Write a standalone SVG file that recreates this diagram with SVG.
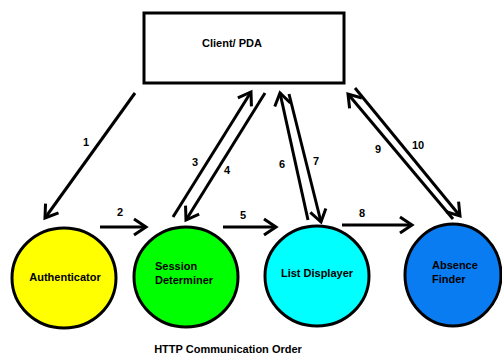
<svg xmlns="http://www.w3.org/2000/svg" width="502" height="356" viewBox="0 0 502 356">
<style>
text{font-family:"Liberation Sans",Arial,sans-serif;font-weight:bold;font-size:11px;fill:#000}
.node{stroke:#000;stroke-width:3}
.c line{stroke:#000;stroke-width:3;marker-end:url(#ah)}
</style>
<defs>
<marker id="ah" markerUnits="userSpaceOnUse" markerWidth="18" markerHeight="22" viewBox="0 0 18 22" refX="15" refY="11" orient="auto">
<path d="M3,3 L15,11 L3,19" fill="none" stroke="#000" stroke-width="3"/>
</marker>
</defs>
<rect width="502" height="356" fill="#fff"/>
<g id="client"><rect x="144" y="13" width="200" height="70" fill="#fff" class="node"/><text x="232" y="47" text-anchor="middle">Client/ PDA</text></g>
<g id="authenticator"><ellipse cx="64" cy="278" rx="52" ry="50" fill="#ffff00" class="node"/><text x="65" y="281" text-anchor="middle">Authenticator</text></g>
<g id="session"><ellipse cx="186" cy="277" rx="52" ry="50" fill="#00ff00" class="node"/><text x="155" y="270">Session</text><text x="155" y="284">Determiner</text></g>
<g id="list"><ellipse cx="317" cy="276" rx="52" ry="50" fill="#00ffff" class="node"/><text x="317" y="277" text-anchor="middle">List Displayer</text></g>
<g id="absence"><ellipse cx="453" cy="275" rx="48" ry="51" fill="#0a7cf2" class="node"/><text x="432" y="269">Absence</text><text x="432" y="283">Finder</text></g>
<g id="connectors" class="c">
<line x1="135" y1="93" x2="45" y2="218"/>
<line x1="100" y1="227" x2="146" y2="227"/>
<line x1="173" y1="217" x2="251" y2="92"/>
<line x1="265" y1="93" x2="186" y2="220"/>
<line x1="223" y1="227" x2="276" y2="227"/>
<line x1="308" y1="220" x2="280" y2="93"/>
<line x1="289" y1="94" x2="321" y2="222"/>
<line x1="342" y1="225" x2="412" y2="225"/>
<line x1="453" y1="219" x2="348" y2="94"/>
<line x1="355" y1="88" x2="460" y2="216"/>
</g>
<g id="labels">
<text x="86" y="146" text-anchor="middle">1</text>
<text x="120" y="216" text-anchor="middle">2</text>
<text x="195" y="166" text-anchor="middle">3</text>
<text x="227" y="174" text-anchor="middle">4</text>
<text x="243" y="219" text-anchor="middle">5</text>
<text x="282" y="168" text-anchor="middle">6</text>
<text x="316" y="165" text-anchor="middle">7</text>
<text x="362" y="217" text-anchor="middle">8</text>
<text x="378" y="153" text-anchor="middle">9</text>
<text x="418" y="149" text-anchor="middle">10</text>
<text x="228" y="353" text-anchor="middle">HTTP Communication Order</text>
</g>
</svg>
